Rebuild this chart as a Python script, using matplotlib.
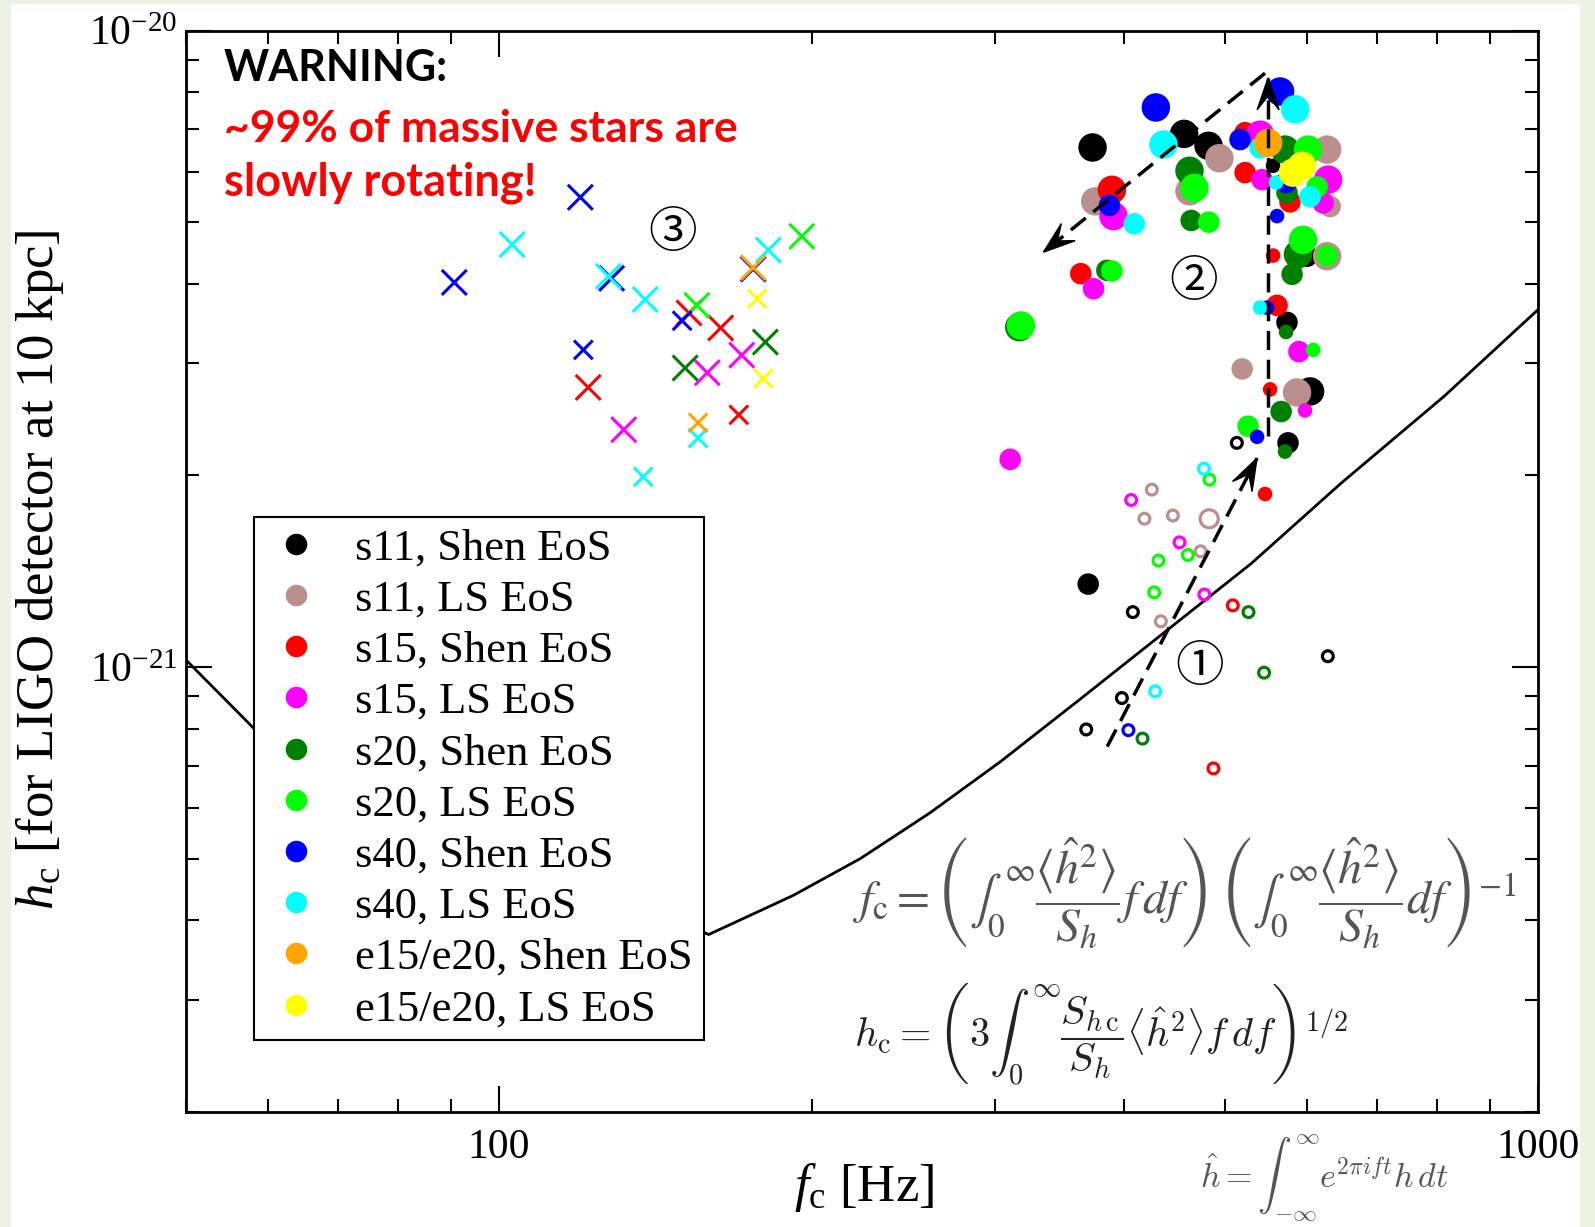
import numpy as np
import matplotlib as mpl
mpl.use('Agg')
import matplotlib.pyplot as plt
from matplotlib.lines import Line2D
from matplotlib.patches import Polygon, Rectangle
from matplotlib.transforms import IdentityTransform
import matplotlib.ticker as mticker

plt.rcParams['font.family'] = ['Liberation Serif', 'DejaVu Serif']
plt.rcParams['mathtext.fontset'] = 'custom'
plt.rcParams['mathtext.rm'] = 'Liberation Serif'
plt.rcParams['mathtext.it'] = 'Liberation Serif:italic'
plt.rcParams['mathtext.bf'] = 'Liberation Serif:bold'

H21 = 1e-21  # strain values below are in units of 1e-21

models = ['s11, Shen EoS', 's11, LS EoS', 's15, Shen EoS', 's15, LS EoS',
          's20, Shen EoS', 's20, LS EoS', 's40, Shen EoS', 's40, LS EoS',
          'e15/e20, Shen EoS', 'e15/e20, LS EoS']
model_colors = ['black', '#bc8f8f', 'red', 'magenta', 'green', 'lime',
                'blue', 'cyan', 'orange', 'yellow']

# rapidly rotating models (filled dots), size class 0/1/2
rot_model = [0]*9 + [1]*8 + [2]*9 + [3]*9 + [4]*11 + [5]*10 + [6]*8 + [7]*7 + [8] + [9]*2
rot_f = [372.7, 456.5, 481.9, 556.0, 599.4, 573.4, 603.5, 574.7, 369.1,
         493.6, 374.9, 462.0, 626.7, 630.9, 626.7, 519.2, 586.3,
         389.0, 363.1, 522.6, 522.6, 577.2, 556.0, 560.9, 552.3, 546.2,
         390.4, 373.5, 540.2, 542.6, 628.1, 621.2, 588.8, 596.8, 310.5,
         462.0, 463.7, 384.7, 316.8, 570.9, 573.4, 587.5, 579.9, 572.2, 566.0, 570.9,
         467.1, 482.2, 389.0, 318.0, 600.8, 613.0, 594.1, 626.7, 607.6, 526.0,
         428.8, 386.9, 564.7, 516.8, 572.2, 560.9, 548.6, 536.6,
         436.1, 408.7, 583.8, 540.2, 559.8, 603.5, 540.2,
         549.9,
         581.1, 592.9]
rot_h = [6.55, 6.88, 6.59, 6.13, 4.42, 3.48, 2.71, 2.25, 1.35,
         6.30, 5.39, 5.59, 6.50, 5.29, 4.42, 2.94, 2.70,
         5.62, 4.15, 6.91, 5.98, 5.38, 4.43, 3.70, 2.73, 1.87,
         5.11, 3.93, 6.86, 5.83, 5.83, 5.36, 3.13, 2.53, 2.12,
         6.02, 5.03, 4.20, 3.42, 6.50, 5.56, 4.45, 4.14, 3.36, 2.52, 2.18,
         5.66, 5.00, 4.19, 3.44, 6.50, 5.68, 4.69, 4.43, 3.15, 2.39,
         7.57, 5.31, 8.02, 6.74, 5.77, 5.11, 3.67, 2.30,
         6.62, 4.97, 7.52, 6.54, 5.77, 5.48, 3.67,
         6.66,
         5.98, 6.13]
rot_size = [2, 2, 2, 0, 1, 1, 2, 1, 1,
            2, 2, 2, 2, 1, 2, 1, 2,
            2, 1, 1, 1, 1, 0, 1, 0, 0,
            2, 1, 2, 1, 2, 1, 1, 0, 1,
            2, 1, 1, 2, 2, 1, 2, 1, 0, 1, 0,
            2, 1, 1, 2, 2, 1, 2, 1, 0, 1,
            2, 1, 2, 1, 1, 0, 0, 0,
            2, 1, 2, 1, 0, 1, 0,
            2,
            2, 2]

# slowly rotating models (open circles)
slow_model = [0]*5 + [1]*6 + [2]*2 + [3]*3 + [4]*3 + [5]*4 + [6] + [7]*2
slow_f = [513.1, 407.5, 627.7, 397.7, 367.5,
          425.0, 418.1, 445.3, 482.6, 473.5, 433.6,
          508.5, 487.2,
          406.0, 451.9, 477.5,
          526.5, 545.0, 416.3,
          482.9, 460.3, 431.3, 427.2,
          403.5,
          477.0, 428.2]
slow_h = [2.25, 1.22, 1.04, 0.894, 0.798,
          1.90, 1.71, 1.73, 1.71, 1.52, 1.18,
          1.25, 0.693,
          1.83, 1.57, 1.30,
          1.22, 0.980, 0.772,
          1.97, 1.50, 1.47, 1.31,
          0.796,
          2.05, 0.916]
slow_size = [0]*8 + [1] + [0]*17

# non-rotating models (crosses)
cross_model = [2]*4 + [3]*3 + [4]*2 + [5]*2 + [6]*6 + [7]*6 + [8]*2 + [9]*2
cross_f = [152.4, 163.5, 121.9, 170.2,
           171.3, 158.7, 131.9,
           180.5, 151.1,
           155.1, 195.7,
           119.8, 90.6, 128.4, 150.1, 175.7, 120.6,
           103.0, 127.5, 138.3, 181.7, 155.5, 137.7,
           175.7, 155.5,
           177.3, 179.7]
cross_h = [3.60, 3.41, 2.75, 2.49,
           3.09, 2.90, 2.36,
           3.24, 2.95,
           3.70, 4.75,
           5.47, 4.02, 4.08, 3.50, 4.22, 3.15,
           4.61, 4.11, 3.78, 4.52, 2.29, 1.99,
           4.24, 2.42,
           3.79, 2.84]
cross_size = [1, 1, 1, 0,
              1, 1, 1,
              1, 1,
              1, 1,
              1, 1, 1, 0, 1, 0,
              1, 1, 1, 1, 0, 0,
              1, 0,
              0, 0]

# detector sensitivity curve
ligo_f = [50, 58.2, 159.2, 192.1, 222.7, 259.9, 303.8, 361.2, 432.9,
          529.9, 645.1, 812.8, 1000]
ligo_h = [1.026, 0.799, 0.380, 0.438, 0.500, 0.590, 0.710, 0.886, 1.120,
          1.455, 1.939, 2.666, 3.643]

# evolution arrows: (f_start, h_start, f_tip, h_tip)
arrows = [(385.0, 0.750, 536.6, 2.129),
          (549.9, 2.305, 549.9, 8.425),
          (546.2, 8.57, 334.2, 4.484)]
phase_labels = ['\u2460', '\u2461', '\u2462']
phase_f = [472.9, 466.8, 146.9]
phase_h = [1.00, 4.02, 4.80]

DOT_D = {0: 10.5, 1: 15.5, 2: 20.5}
RING_D = {0: 7.8, 1: 13.0}
CROSS_D = {0: 13.5, 1: 18.0}

W, H = 1595, 1227
fig = plt.figure(figsize=(W / 100, H / 100), dpi=100)
fig.patch.set_facecolor('#eef2e3')
fig.patches.append(Rectangle((11 / W, 0), (1580 - 11) / W, 1 - 4 / H,
                             transform=fig.transFigure, facecolor='white',
                             edgecolor='none', zorder=-10))

ax = fig.add_axes([186 / W, 1 - 1112 / H, (1538 - 186) / W, (1112 - 30.5) / H])
ax.set_zorder(1)
ax.set_xscale('log')
ax.set_yscale('log')
ax.set_xlim(50, 1000)
ax.set_ylim(2e-22, 1e-20)

ax.plot(ligo_f, np.array(ligo_h) * H21, color='black', lw=2.0, zorder=2,
        solid_joinstyle='round')

cols = np.array(model_colors, dtype=object)
ax.scatter(cross_f, np.array(cross_h) * H21, marker='x',
           s=[CROSS_D[k] ** 2 for k in cross_size],
           c=list(cols[cross_model]), linewidths=2.2, zorder=3)
ax.scatter(rot_f, np.array(rot_h) * H21, marker='o',
           s=[DOT_D[k] ** 2 for k in rot_size],
           c=list(cols[rot_model]), linewidths=0, zorder=3)
ax.scatter(slow_f, np.array(slow_h) * H21, marker='o',
           s=[RING_D[k] ** 2 for k in slow_size], facecolors='none',
           edgecolors=list(cols[slow_model]), linewidths=2.3, zorder=3)


def dashed_arrow(f0, h0, f1, h1):
    ax.plot([f0, f1], [h0 * H21, h1 * H21], color='black', lw=2.5,
            dashes=(5.5, 2.8), zorder=4)
    p0 = ax.transData.transform((f0, h0 * H21))
    p1 = ax.transData.transform((f1, h1 * H21))
    ang = np.arctan2(p1[1] - p0[1], p1[0] - p0[0])
    head = np.array([[0, 0], [-32, 11], [-18, 0], [-32, -11]])
    rot = np.array([[np.cos(ang), -np.sin(ang)], [np.sin(ang), np.cos(ang)]])
    pts = head @ rot.T + p1
    ax.add_patch(Polygon(pts, closed=True, transform=IdentityTransform(),
                         facecolor='black', edgecolor='black', lw=1, zorder=4))


for f0, h0, f1, h1 in arrows:
    dashed_arrow(f0, h0, f1, h1)

for lab, f, h in zip(phase_labels, phase_f, phase_h):
    ax.text(f, h * H21, lab, fontsize=35, ha='center', va='center',
            family=['Noto Sans CJK JP', 'DejaVu Sans'], zorder=4)

# axes styling
ax.set_xticks([100, 1000])
ax.set_xticklabels(['100', '1000'])
ax.xaxis.set_minor_locator(mticker.LogLocator(base=10, subs=np.arange(2, 10)))
ax.xaxis.set_minor_formatter(mticker.NullFormatter())
ax.set_yticks([1e-21, 1e-20])
ax.set_yticklabels([r'$\mathregular{10^{-21}}$', r'$\mathregular{10^{-20}}$'])
ax.yaxis.set_minor_locator(mticker.LogLocator(base=10, subs=np.arange(2, 10)))
ax.yaxis.set_minor_formatter(mticker.NullFormatter())
ax.tick_params(which='both', direction='in', top=True, right=True, width=1.5,
               labelsize=30, pad=12)
ax.tick_params(axis='y', which='major', pad=6)
ax.tick_params(which='major', length=19)
ax.tick_params(which='minor', length=9.5)
for sp in ax.spines.values():
    sp.set_linewidth(2.0)

fig.text(864 / W, 1 - 1188 / H, r'$\mathit{f}_{\mathregular{c}}$ [Hz]',
         fontsize=38, ha='center', va='center')
fig.text(40 / W, 1 - 570 / H,
         r'$\mathit{h}_{\mathregular{c}}$ [for LIGO detector at 10 kpc]',
         fontsize=38, ha='center', va='center', rotation=90)

handles = [Line2D([], [], ls='none', marker='o', ms=15.5, mfc=c, mec='none')
           for c in model_colors]
leg = ax.legend(handles, models, loc='upper left',
                bbox_to_anchor=((254 - 186) / 1352, (1112 - 517) / 1081.5),
                borderaxespad=0, fontsize=32, handlelength=1.4,
                handletextpad=0.63, labelspacing=0.25, borderpad=0.25,
                fancybox=False, edgecolor='black', framealpha=1)
leg.get_frame().set_linewidth(1.5)
leg.set_zorder(6)

# warning note
warn_font = ['Lato', 'DejaVu Sans']
fig.text(224 / W, 1 - 81 / H, 'WARNING:', fontsize=31, fontweight='bold',
         family=warn_font, color='black')
fig.text(224 / W, 1 - 142 / H, '~99% of massive stars are', fontsize=32,
         fontweight='bold', family=warn_font, color='red')
fig.text(224 / W, 1 - 196 / H, 'slowly rotating!', fontsize=32.5,
         fontweight='bold', family=warn_font, color='red')

# definitions
fig.text(852 / W, 1 - 893 / H,
         r'$f_{\rm c} = \left(\int_0^\infty \dfrac{\langle\hat{h}^2\rangle}{S_h} f\,df\right)'
         r'\,\left(\int_0^\infty \dfrac{\langle\hat{h}^2\rangle}{S_h} df\right)^{-1}$',
         fontsize=34.5, math_fontfamily='stix', color='#555555', ha='left', va='center')
fig.text(854 / W, 1 - 1035 / H,
         r'$h_{\rm c} = \left(3\int_0^\infty \dfrac{S_{h\,{\rm c}}}{S_h}'
         r'\langle\hat{h}^2\rangle f\,df\right)^{1/2}$',
         fontsize=29, math_fontfamily='cm', color='#222222', ha='left', va='center')
fig.text(1200 / W, 1 - 1188 / H,
         r'$\hat{h} = \int_{-\infty}^{\infty} e^{2\pi i f t} h\,dt$',
         fontsize=24.5, math_fontfamily='cm', color='#555555', ha='left',
         va='baseline')

fig.savefig('out.png', dpi=100, facecolor=fig.get_facecolor())
